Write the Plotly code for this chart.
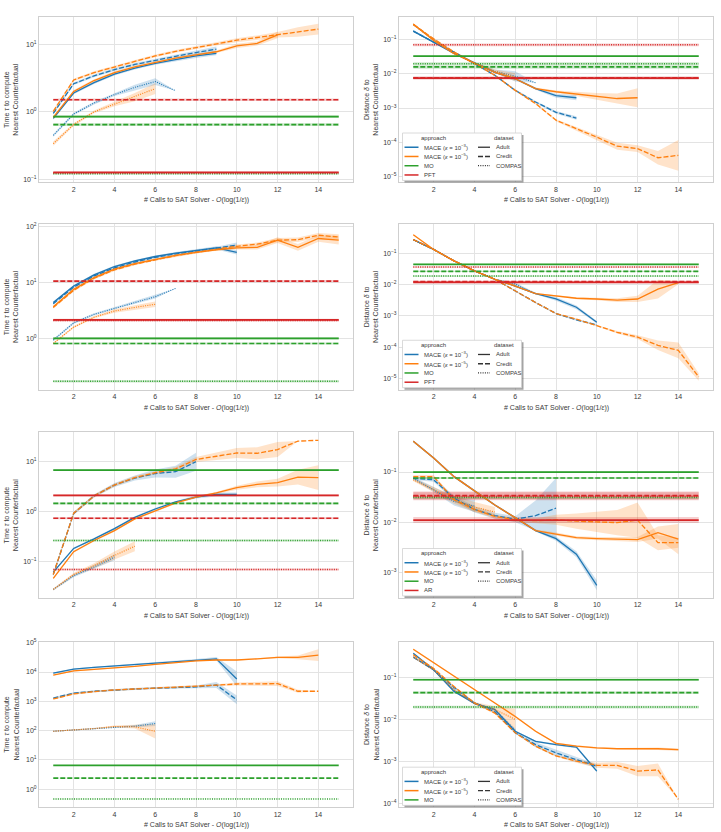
import plotly.graph_objects as go

W, H = 721, 832

# ---------------- data ----------------
CALLS = list(range(1, 16))
X_TICKS = [2, 4, 6, 8, 10, 12, 14]
DATASETS = ["Adult", "Credit", "COMPAS"]
LEG_PFT = ["MACE (<i>ε</i> = 10<sup>−3</sup>)", "MACE (<i>ε</i> = 10<sup>−5</sup>)", "MO", "PFT"]
LEG_AR = ["MACE (<i>ε</i> = 10<sup>−3</sup>)", "MACE (<i>ε</i> = 10<sup>−5</sup>)", "MO", "AR"]
LEG_MO = ["MACE (<i>ε</i> = 10<sup>−3</sup>)", "MACE (<i>ε</i> = 10<sup>−5</sup>)", "MO"]

# Row 1 — time (T1) and distance (D1)
T1_M3_ADULT = [0.80, 1.9, 2.7, 3.6, 4.4, 5.2, 5.9, 6.7, 7.3]
T1_M3_ADULT_SP = [0.02, 0.02, 0.02, 0.02, 0.02, 0.02, 0.02, 0.03, 0.03]
T1_M3_CREDIT = [0.95, 2.6, 3.4, 4.2, 5.0, 5.8, 6.6, 7.5, 8.4]
T1_M3_CREDIT_SP = [0.02, 0.02, 0.02, 0.02, 0.02, 0.02, 0.02, 0.03, 0.04]
T1_M3_COMPAS = [0.45, 0.93, 1.35, 1.8, 2.3, 2.8, 2.05]
T1_M3_COMPAS_SP = [0.02, 0.02, 0.02, 0.02, 0.04, 0.05, 0.0]
T1_M5_ADULT = [0.83, 2.0, 2.9, 3.8, 4.6, 5.4, 6.2, 6.9, 7.7, 9.4, 10.2, 13.7]
T1_M5_ADULT_SP = [0.02, 0.02, 0.02, 0.02, 0.02, 0.02, 0.02, 0.02, 0.02, 0.03, 0.03, 0.05]
T1_M5_CREDIT = [1.02, 2.95, 3.8, 4.6, 5.6, 6.7, 7.8, 8.9, 10.0, 11.4, 12.5, 13.7, 15.0, 16.6]
T1_M5_CREDIT_SP = [0.02, 0.02, 0.02, 0.02, 0.02, 0.02, 0.02, 0.02, 0.02, 0.03, 0.03, 0.04, 0.07, 0.08]
T1_M5_COMPAS = [0.34, 0.65, 1.0, 1.3, 1.65, 2.2]
T1_M5_COMPAS_SP = [0.03, 0.02, 0.02, 0.03, 0.06, 0.08]
T1_MO = [0.85, 0.65, 0.122]
T1_MO_SP = [0.02, 0.02, 0.01]
T1_BASE = [0.128, 1.51, 0.126]
T1_BASE_SP = [0.01, 0.02, 0.01]

D1_M3_ADULT = [0.18, 0.085, 0.040, 0.021, 0.011, 0.0072, 0.0037, 0.0023, 0.0020]
D1_M3_ADULT_SP = [0.03, 0.02, 0.02, 0.02, 0.02, 0.03, 0.03, 0.06, 0.07]
D1_M3_CREDIT = [0.18, 0.085, 0.044, 0.020, 0.0091, 0.0033, 0.0015, 0.00075, 0.00051]
D1_M3_CREDIT_SP = [0.03, 0.02, 0.02, 0.02, 0.02, 0.03, 0.03, 0.04, 0.05]
D1_M3_COMPAS = [0.28, 0.10, 0.042, 0.021, 0.012, 0.0085, 0.0055]
D1_M3_COMPAS_SP = [0.03, 0.03, 0.03, 0.03, 0.05, 0.15, 0.0]
D1_M5_ADULT = [0.29, 0.095, 0.039, 0.021, 0.011, 0.0072, 0.0037, 0.0030, 0.0026, 0.0022, 0.0019, 0.0020]
D1_M5_ADULT_SP = [0.03, 0.02, 0.02, 0.02, 0.02, 0.03, 0.03, 0.04, 0.06, 0.10, 0.15, 0.28]
D1_M5_CREDIT = [0.28, 0.107, 0.044, 0.020, 0.0091, 0.0033, 0.00135, 0.00044, 0.00025, 0.00014,
                0.000076, 0.000065, 0.000035, 0.000041]
D1_M5_CREDIT_SP = [0.02, 0.02, 0.02, 0.02, 0.02, 0.02, 0.03, 0.03, 0.05, 0.08, 0.10, 0.10, 0.20, 0.45]
D1_M5_COMPAS = [0.28, 0.10, 0.042, 0.021, 0.012, 0.0080]
D1_M5_COMPAS_SP = [0.03, 0.03, 0.03, 0.03, 0.05, 0.12]
D1_MO = [0.033, 0.016, 0.020]
D1_MO_SP = [0.02, 0.05, 0.04]
D1_BASE = [0.0075, 0.0077, 0.071]
D1_BASE_SP = [0.04, 0.04, 0.04]

# Row 2
T2_M3_ADULT = [4.4, 8.7, 13.8, 19.5, 24.5, 29.5, 34, 38, 42, 35]
T2_M3_ADULT_SP = [0.02, 0.02, 0.02, 0.02, 0.02, 0.02, 0.02, 0.02, 0.03, 0.04]
T2_M3_CREDIT = [4.2, 8.3, 13.2, 18.5, 23.5, 28.5, 33, 37, 41, 47]
T2_M3_CREDIT_SP = [0.02, 0.02, 0.02, 0.02, 0.02, 0.02, 0.02, 0.02, 0.03, 0.05]
T2_M3_COMPAS = [0.93, 1.9, 2.7, 3.5, 4.4, 5.6, 7.9]
T2_M3_COMPAS_SP = [0.02, 0.02, 0.02, 0.02, 0.02, 0.03, 0.0]
T2_M5_ADULT = [3.7, 7.6, 12.3, 17.5, 22, 26.5, 31, 35, 39, 42, 43, 58, 43, 62, 58]
T2_M5_ADULT_SP = [0.02, 0.02, 0.02, 0.02, 0.02, 0.02, 0.02, 0.02, 0.02, 0.03, 0.04, 0.05, 0.06, 0.06, 0.08]
T2_M5_CREDIT = [3.6, 7.3, 12, 17, 21.5, 26, 30.5, 35, 40, 45, 49, 58, 59, 71, 66]
T2_M5_CREDIT_SP = [0.02, 0.02, 0.02, 0.02, 0.02, 0.02, 0.02, 0.02, 0.02, 0.03, 0.03, 0.04, 0.04, 0.04, 0.05]
T2_M5_COMPAS = [0.81, 1.6, 2.4, 3.1, 3.6, 4.1]
T2_M5_COMPAS_SP = [0.02, 0.02, 0.02, 0.03, 0.04, 0.05]
T2_MO = [1.0, 0.81, 0.17]
T2_MO_SP = [0.02, 0.02, 0.02]
T2_BASE = [2.15, 10.7, 2.1]
T2_BASE_SP = [0.02, 0.02, 0.02]

D2_M3_ADULT = [0.28, 0.135, 0.058, 0.028, 0.015, 0.0091, 0.0052, 0.0035, 0.0019, 0.00063]
D2_M3_ADULT_SP = [0.02, 0.02, 0.02, 0.02, 0.02, 0.02, 0.02, 0.06, 0.06, 0.04]
D2_M3_CREDIT = [0.28, 0.135, 0.058, 0.028, 0.015, 0.0063, 0.0027, 0.0012, 0.00075, 0.00052]
D2_M3_CREDIT_SP = [0.02, 0.02, 0.02, 0.02, 0.02, 0.02, 0.02, 0.02, 0.03, 0.03]
D2_M3_COMPAS = [0.28, 0.135, 0.058, 0.028, 0.015, 0.0105, 0.0052]
D2_M3_COMPAS_SP = [0.02, 0.02, 0.02, 0.02, 0.02, 0.05, 0.03]
D2_M5_ADULT = [0.40, 0.135, 0.058, 0.028, 0.015, 0.0091, 0.0052, 0.0045, 0.0037, 0.0035, 0.0032,
               0.0035, 0.0072, 0.0117]
D2_M5_ADULT_SP = [0.02, 0.02, 0.02, 0.02, 0.02, 0.02, 0.02, 0.02, 0.03, 0.04, 0.06, 0.10, 0.30, 0.05]
D2_M5_CREDIT = [0.28, 0.135, 0.058, 0.028, 0.015, 0.0063, 0.0027, 0.0012, 0.00079, 0.00049, 0.00030,
                0.00021, 0.000115, 0.000079, 0.0000112]
D2_M5_CREDIT_SP = [0.02, 0.02, 0.02, 0.02, 0.02, 0.02, 0.02, 0.02, 0.02, 0.02, 0.04, 0.06, 0.15, 0.25, 0.12]
D2_M5_COMPAS = [0.28, 0.135, 0.058, 0.028, 0.015, 0.0095]
D2_M5_COMPAS_SP = [0.02, 0.02, 0.02, 0.02, 0.02, 0.03]
D2_MO = [0.045, 0.027, 0.019]
D2_MO_SP = [0.02, 0.02, 0.02]
D2_BASE = [0.012, 0.0126, 0.037]
D2_BASE_SP = [0.03, 0.03, 0.02]

# Row 3
T3_M3_ADULT = [0.060, 0.18, 0.28, 0.45, 0.76, 1.12, 1.55, 1.95, 2.2, 2.2]
T3_M3_ADULT_SP = [0.02, 0.02, 0.02, 0.02, 0.02, 0.02, 0.02, 0.03, 0.04, 0.04]
T3_M3_CREDIT = [0.054, 0.91, 2.05, 3.4, 4.7, 5.8, 6.3, 10.0]
T3_M3_CREDIT_SP = [0.03, 0.03, 0.03, 0.04, 0.05, 0.08, 0.12, 0.18]
T3_M3_COMPAS = [0.027, 0.051, 0.076, 0.12]
T3_M3_COMPAS_SP = [0.02, 0.03, 0.04, 0.06]
T3_M5_ADULT = [0.045, 0.155, 0.26, 0.41, 0.71, 1.02, 1.48, 1.95, 2.35, 3.0, 3.5, 3.8, 4.9, 4.8]
T3_M5_ADULT_SP = [0.02, 0.02, 0.02, 0.02, 0.02, 0.02, 0.02, 0.02, 0.02, 0.04, 0.06, 0.08, 0.15, 0.25]
T3_M5_CREDIT = [0.054, 0.92, 2.05, 3.4, 4.8, 6.0, 7.2, 11.1, 12.9, 15.0, 14.8, 17.6, 26, 27]
T3_M5_CREDIT_SP = [0.03, 0.03, 0.03, 0.03, 0.03, 0.03, 0.04, 0.05, 0.08, 0.10, 0.12, 0.15, 0.0, 0.0]
T3_M5_COMPAS = [0.027, 0.054, 0.081, 0.13, 0.20]
T3_M5_COMPAS_SP = [0.02, 0.03, 0.05, 0.08, 0.10]
T3_MO = [6.8, 1.45, 0.26]
T3_MO_SP = [0.02, 0.02, 0.02]
T3_BASE = [2.1, 0.73, 0.068]
T3_BASE_SP = [0.02, 0.02, 0.02]

D3_M3_ADULT = [0.41, 0.19, 0.081, 0.042, 0.022, 0.0123, 0.0068, 0.0047, 0.0023, 0.00055]
D3_M3_ADULT_SP = [0.02, 0.02, 0.02, 0.02, 0.02, 0.02, 0.02, 0.04, 0.06, 0.10]
D3_M3_CREDIT = [0.075, 0.070, 0.030, 0.018, 0.0135, 0.0115, 0.0135, 0.019]
D3_M3_CREDIT_SP = [0.03, 0.04, 0.05, 0.06, 0.06, 0.06, 0.30, 0.60]
D3_M3_COMPAS = [0.075, 0.045, 0.026, 0.021]
D3_M3_COMPAS_SP = [0.03, 0.05, 0.08, 0.12]
D3_M5_ADULT = [0.41, 0.19, 0.081, 0.042, 0.022, 0.0123, 0.0068, 0.0058, 0.0049, 0.0047, 0.0046,
               0.0045, 0.0062, 0.0046]
D3_M5_ADULT_SP = [0.02, 0.02, 0.02, 0.02, 0.02, 0.02, 0.02, 0.03, 0.03, 0.03, 0.04, 0.05, 0.12, 0.30]
D3_M5_CREDIT = [0.081, 0.081, 0.028, 0.018, 0.013, 0.0112, 0.0107, 0.0112, 0.0105, 0.0100, 0.0098,
                0.0110, 0.0039, 0.0039]
D3_M5_CREDIT_SP = [0.03, 0.03, 0.04, 0.04, 0.04, 0.04, 0.05, 0.10, 0.15, 0.20, 0.25, 0.35, 0.15, 0.10]
D3_M5_COMPAS = [0.070, 0.045, 0.028, 0.020, 0.016]
D3_M5_COMPAS_SP = [0.03, 0.05, 0.08, 0.10, 0.10]
D3_MO = [0.10, 0.076, 0.031]
D3_MO_SP = [0.02, 0.02, 0.03]
D3_BASE = [0.011, 0.034, 0.033]
D3_BASE_SP = [0.06, 0.08, 0.08]

# Row 4
T4_M3_ADULT = [9100, 12600, 14500, 16200, 17800, 20000, 23000, 25700, 28200, 5800]
T4_M3_ADULT_SP = [0.02, 0.02, 0.02, 0.02, 0.02, 0.02, 0.02, 0.03, 0.06, 0.25]
T4_M3_CREDIT = [1290, 1900, 2200, 2450, 2630, 2800, 2950, 3100, 3600, 1120]
T4_M3_CREDIT_SP = [0.03, 0.03, 0.03, 0.03, 0.03, 0.03, 0.03, 0.05, 0.10, 0.15]
T4_M3_COMPAS = [95, 105, 117, 135, 141, 174]
T4_M3_COMPAS_SP = [0.02, 0.02, 0.02, 0.02, 0.04, 0.08]
T4_M5_ADULT = [7900, 11000, 12300, 13500, 15500, 18200, 21000, 24000, 25700, 25700, 28200, 31600,
               31600, 38000]
T4_M5_ADULT_SP = [0.02, 0.02, 0.02, 0.02, 0.02, 0.02, 0.02, 0.02, 0.02, 0.02, 0.02, 0.03, 0.06, 0.20]
T4_M5_CREDIT = [1200, 1800, 2150, 2450, 2630, 2800, 3000, 3200, 3550, 3900, 3900, 4000, 2200, 2200]
T4_M5_CREDIT_SP = [0.03, 0.03, 0.03, 0.03, 0.03, 0.03, 0.03, 0.03, 0.03, 0.05, 0.06, 0.08, 0.05, 0.0]
T4_M5_COMPAS = [95, 105, 117, 138, 135, 95]
T4_M5_COMPAS_SP = [0.02, 0.02, 0.02, 0.03, 0.06, 0.25]
T4_MO = [6.5, 2.4, 0.46]
T4_MO_SP = [0.01, 0.01, 0.01]

D4_M3_ADULT = [0.37, 0.15, 0.046, 0.024, 0.017, 0.0052, 0.0030, 0.0025, 0.0022, 0.00059]
D4_M3_ADULT_SP = [0.02, 0.02, 0.02, 0.02, 0.02, 0.02, 0.02, 0.02, 0.03, 0.03]
D4_M3_CREDIT = [0.30, 0.15, 0.057, 0.0245, 0.015, 0.0048, 0.0025, 0.0016, 0.0011, 0.00078]
D4_M3_CREDIT_SP = [0.02, 0.02, 0.02, 0.02, 0.02, 0.02, 0.06, 0.08, 0.06, 0.04]
D4_M3_COMPAS = [0.30, 0.15, 0.050, 0.024, 0.017, 0.0055]
D4_M3_COMPAS_SP = [0.02, 0.02, 0.02, 0.02, 0.03, 0.04]
D4_M5_ADULT = [0.46, 0.22, 0.107, 0.052, 0.025, 0.0117, 0.0052, 0.0027, 0.0023, 0.0021, 0.0020,
               0.0020, 0.0020, 0.0019]
D4_M5_ADULT_SP = [0.02, 0.02, 0.02, 0.02, 0.02, 0.02, 0.02, 0.02, 0.02, 0.02, 0.02, 0.02, 0.03, 0.03]
D4_M5_CREDIT = [0.34, 0.162, 0.060, 0.0245, 0.0141, 0.0048, 0.0023, 0.00135, 0.00102, 0.00081,
                0.00081, 0.00059, 0.00063, 0.000126]
D4_M5_CREDIT_SP = [0.02, 0.02, 0.02, 0.02, 0.02, 0.02, 0.02, 0.02, 0.04, 0.06, 0.08, 0.12, 0.15, 0.0]
D4_M5_COMPAS = [0.30, 0.15, 0.050, 0.024, 0.017, 0.010]
D4_M5_COMPAS_SP = [0.02, 0.02, 0.02, 0.03, 0.08, 0.25]
D4_MO = [0.087, 0.043, 0.0195]
D4_MO_SP = [0.03, 0.03, 0.03]

# ---------------- style ----------------
BLUE, ORANGE, GREEN, RED = "#1f77b4", "#ff7f0e", "#2ca02c", "#d62728"
DASHES = ["solid", "5px,2px", "1px,1.3px"]
WIDTHS = [1.3, 1.3, 1.1]
FONT = "Liberation Sans, Arial, DejaVu Sans, sans-serif"
TXT = "#3a3a3a"

COL_X0 = [39, 399]
ROW_Y0 = [13, 221.5, 431, 641.7]
PW, PH = 314, 166.5


def rgba(h, a):
    h = h.lstrip("#")
    return "rgba(%d,%d,%d,%.2f)" % (int(h[0:2], 16), int(h[2:4], 16), int(h[4:6], 16), a)


PANELS = [
    dict(row=0, col=0, yr=[-1.04, 1.40], ticks=[-1, 0, 1],
         m3=[(T1_M3_ADULT, T1_M3_ADULT_SP), (T1_M3_CREDIT, T1_M3_CREDIT_SP), (T1_M3_COMPAS, T1_M3_COMPAS_SP)],
         m5=[(T1_M5_ADULT, T1_M5_ADULT_SP), (T1_M5_CREDIT, T1_M5_CREDIT_SP), (T1_M5_COMPAS, T1_M5_COMPAS_SP)],
         mo=(T1_MO, T1_MO_SP), base=(T1_BASE, T1_BASE_SP), legend=None),
    dict(row=0, col=1, yr=[-5.18, -0.33], ticks=[-5, -4, -3, -2, -1],
         m3=[(D1_M3_ADULT, D1_M3_ADULT_SP), (D1_M3_CREDIT, D1_M3_CREDIT_SP), (D1_M3_COMPAS, D1_M3_COMPAS_SP)],
         m5=[(D1_M5_ADULT, D1_M5_ADULT_SP), (D1_M5_CREDIT, D1_M5_CREDIT_SP), (D1_M5_COMPAS, D1_M5_COMPAS_SP)],
         mo=(D1_MO, D1_MO_SP), base=(D1_BASE, D1_BASE_SP), legend=LEG_PFT),
    dict(row=1, col=0, yr=[-0.92, 2.05], ticks=[0, 1, 2],
         m3=[(T2_M3_ADULT, T2_M3_ADULT_SP), (T2_M3_CREDIT, T2_M3_CREDIT_SP), (T2_M3_COMPAS, T2_M3_COMPAS_SP)],
         m5=[(T2_M5_ADULT, T2_M5_ADULT_SP), (T2_M5_CREDIT, T2_M5_CREDIT_SP), (T2_M5_COMPAS, T2_M5_COMPAS_SP)],
         mo=(T2_MO, T2_MO_SP), base=(T2_BASE, T2_BASE_SP), legend=None),
    dict(row=1, col=1, yr=[-5.36, -0.06], ticks=[-5, -4, -3, -2, -1],
         m3=[(D2_M3_ADULT, D2_M3_ADULT_SP), (D2_M3_CREDIT, D2_M3_CREDIT_SP), (D2_M3_COMPAS, D2_M3_COMPAS_SP)],
         m5=[(D2_M5_ADULT, D2_M5_ADULT_SP), (D2_M5_CREDIT, D2_M5_CREDIT_SP), (D2_M5_COMPAS, D2_M5_COMPAS_SP)],
         mo=(D2_MO, D2_MO_SP), base=(D2_BASE, D2_BASE_SP), legend=LEG_PFT),
    dict(row=2, col=0, yr=[-1.74, 1.59], ticks=[-1, 0, 1],
         m3=[(T3_M3_ADULT, T3_M3_ADULT_SP), (T3_M3_CREDIT, T3_M3_CREDIT_SP), (T3_M3_COMPAS, T3_M3_COMPAS_SP)],
         m5=[(T3_M5_ADULT, T3_M5_ADULT_SP), (T3_M5_CREDIT, T3_M5_CREDIT_SP), (T3_M5_COMPAS, T3_M5_COMPAS_SP)],
         mo=(T3_MO, T3_MO_SP), base=(T3_BASE, T3_BASE_SP), legend=None),
    dict(row=2, col=1, yr=[-3.51, -0.21], ticks=[-3, -2, -1],
         m3=[(D3_M3_ADULT, D3_M3_ADULT_SP), (D3_M3_CREDIT, D3_M3_CREDIT_SP), (D3_M3_COMPAS, D3_M3_COMPAS_SP)],
         m5=[(D3_M5_ADULT, D3_M5_ADULT_SP), (D3_M5_CREDIT, D3_M5_CREDIT_SP), (D3_M5_COMPAS, D3_M5_COMPAS_SP)],
         mo=(D3_MO, D3_MO_SP), base=(D3_BASE, D3_BASE_SP), legend=LEG_AR),
    dict(row=3, col=0, yr=[-0.62, 5.03], ticks=[0, 1, 2, 3, 4, 5],
         m3=[(T4_M3_ADULT, T4_M3_ADULT_SP), (T4_M3_CREDIT, T4_M3_CREDIT_SP), (T4_M3_COMPAS, T4_M3_COMPAS_SP)],
         m5=[(T4_M5_ADULT, T4_M5_ADULT_SP), (T4_M5_CREDIT, T4_M5_CREDIT_SP), (T4_M5_COMPAS, T4_M5_COMPAS_SP)],
         mo=(T4_MO, T4_MO_SP), base=None, legend=None),
    dict(row=3, col=1, yr=[-4.09, -0.16], ticks=[-4, -3, -2, -1],
         m3=[(D4_M3_ADULT, D4_M3_ADULT_SP), (D4_M3_CREDIT, D4_M3_CREDIT_SP), (D4_M3_COMPAS, D4_M3_COMPAS_SP)],
         m5=[(D4_M5_ADULT, D4_M5_ADULT_SP), (D4_M5_CREDIT, D4_M5_CREDIT_SP), (D4_M5_COMPAS, D4_M5_COMPAS_SP)],
         mo=(D4_MO, D4_MO_SP), base=None, legend=LEG_MO),
]

fig = go.Figure()
layout = dict(width=W, height=H, margin=dict(l=0, r=0, t=0, b=0),
              paper_bgcolor="white", plot_bgcolor="white", showlegend=False,
              font=dict(family=FONT, size=7, color=TXT))
annotations = []
shapes = []


def sup(t):
    return "10<sup>%s</sup>" % (str(t).replace("-", "−"))


for i, p in enumerate(PANELS):
    k = i + 1
    xa = "x" if k == 1 else "x%d" % k
    ya = "y" if k == 1 else "y%d" % k
    x0 = COL_X0[p["col"]]
    y0 = ROW_Y0[p["row"]]
    xdom = [x0 / W, (x0 + PW) / W]
    ydom = [1 - (y0 + PH) / H, 1 - y0 / H]

    groups = []  # (xs, values, spread, color, dash, width)
    for (vals, sp), dash, w in zip(p["m3"], DASHES, WIDTHS):
        groups.append((CALLS[:len(vals)], vals, sp, BLUE, dash, w))
    for (vals, sp), dash, w in zip(p["m5"], DASHES, WIDTHS):
        groups.append((CALLS[:len(vals)], vals, sp, ORANGE, dash, w))
    hl = [(p["mo"], GREEN)]
    if p["base"] is not None:
        hl.append((p["base"], RED))
    for (vals, sps), color in hl:
        for v, s, dash, w in zip(vals, sps, DASHES, WIDTHS):
            groups.append(([CALLS[0], CALLS[-1]], [v, v], [s, s], color, dash, w + 0.4))

    # confidence bands
    for xs, ys, sp, color, dash, w in groups:
        if sp is None or max(sp) <= 0:
            continue
        hi = [y * 10 ** s for y, s in zip(ys, sp)]
        lo = [y / 10 ** s for y, s in zip(ys, sp)]
        fig.add_trace(go.Scatter(x=list(xs) + list(xs)[::-1], y=hi + lo[::-1], mode="lines",
                                 fill="toself", fillcolor=rgba(color, 0.22), line=dict(width=0),
                                 xaxis=xa, yaxis=ya, hoverinfo="skip", showlegend=False))
    # mean lines
    for xs, ys, sp, color, dash, w in groups:
        fig.add_trace(go.Scatter(x=xs, y=ys, mode="lines",
                                 line=dict(color=color, dash=dash, width=w),
                                 xaxis=xa, yaxis=ya, hoverinfo="skip", showlegend=False))

    axkey = "xaxis" if k == 1 else "xaxis%d" % k
    aykey = "yaxis" if k == 1 else "yaxis%d" % k
    layout[axkey] = dict(domain=xdom, anchor=ya, range=[0.3, 15.7], tickvals=X_TICKS,
                         showline=True, linecolor="#cfcfcf", linewidth=1, mirror=True,
                         showgrid=True, gridcolor="#e3e3e3", gridwidth=1, zeroline=False,
                         ticks="", tickfont=dict(size=7, color=TXT))
    layout[aykey] = dict(domain=ydom, anchor=xa, type="log", range=p["yr"],
                         tickvals=[10 ** t for t in p["ticks"]], ticktext=[sup(t) for t in p["ticks"]],
                         showline=True, linecolor="#cfcfcf", linewidth=1, mirror=True,
                         showgrid=True, gridcolor="#e3e3e3", gridwidth=1, zeroline=False,
                         ticks="", tickfont=dict(size=7, color=TXT))

    # axis titles
    annotations.append(dict(xref="paper", yref="paper", x=(x0 + PW / 2) / W, y=1 - (y0 + PH + 18) / H,
                            text="# Calls to SAT Solver - <i>O</i>(log(1/<i>ε</i>))", showarrow=False,
                            xanchor="center", yanchor="middle", font=dict(size=7, color=TXT)))
    ytitle = ("Time <i>τ</i> to compute<br>Nearest Counterfactual" if p["col"] == 0
              else "Distance <i>δ</i> to<br>Nearest Counterfactual")
    annotations.append(dict(xref="paper", yref="paper", x=(x0 - 28) / W, y=1 - (y0 + PH / 2) / H,
                            text=ytitle, showarrow=False, textangle=-90, xanchor="center",
                            yanchor="middle", font=dict(size=7, color=TXT)))

    # legend drawn inside the axes domain
    if p["legend"] is not None:
        xr, yr_ = xa + " domain", ya + " domain"
        labels = p["legend"]
        nrows = max(len(labels), 3)
        step = 9.3
        bh = 5 + step * nrows + 5.5
        bx0, bx1 = 3.5, 122.5
        by0 = 2.0
        by1 = by0 + bh

        def fx(v):
            return v / PW

        def fy(v):
            return v / PH

        shapes.append(dict(type="rect", xref=xr, yref=yr_, x0=fx(bx0 + 2), x1=fx(bx1 + 2),
                           y0=fy(by0 - 2), y1=fy(by1 - 2), fillcolor="rgba(90,90,90,0.55)",
                           line=dict(width=0), layer="above"))
        shapes.append(dict(type="rect", xref=xr, yref=yr_, x0=fx(bx0), x1=fx(bx1), y0=fy(by0),
                           y1=fy(by1), fillcolor="white", line=dict(color="#d0d0d0", width=0.8),
                           layer="above"))
        ty = by1 - 5
        annotations.append(dict(xref=xr, yref=yr_, x=fx(34), y=fy(ty), text="approach",
                                showarrow=False, xanchor="center", yanchor="middle",
                                font=dict(size=6, color=TXT)))
        annotations.append(dict(xref=xr, yref=yr_, x=fx(105), y=fy(ty), text="dataset",
                                showarrow=False, xanchor="center", yanchor="middle",
                                font=dict(size=6, color=TXT)))
        colors = [BLUE, ORANGE, GREEN, RED]
        for j, lab in enumerate(labels):
            yy = ty - step * (j + 1)
            shapes.append(dict(type="line", xref=xr, yref=yr_, x0=fx(5.5), x1=fx(19.5), y0=fy(yy),
                               y1=fy(yy), line=dict(color=colors[j], width=1.5), layer="above"))
            annotations.append(dict(xref=xr, yref=yr_, x=fx(22.5), y=fy(yy), text=lab,
                                    showarrow=False, xanchor="left", yanchor="middle",
                                    font=dict(size=6, color=TXT)))
        for j, lab in enumerate(DATASETS):
            yy = ty - step * (j + 1)
            shapes.append(dict(type="line", xref=xr, yref=yr_, x0=fx(79), x1=fx(91), y0=fy(yy),
                               y1=fy(yy), line=dict(color="#333333", width=1.3, dash=DASHES[j]),
                               layer="above"))
            annotations.append(dict(xref=xr, yref=yr_, x=fx(95), y=fy(yy), text=lab,
                                    showarrow=False, xanchor="left", yanchor="middle",
                                    font=dict(size=6, color=TXT)))

layout["annotations"] = annotations
layout["shapes"] = shapes
fig.update_layout(**layout)
fig.write_html("out.html")
